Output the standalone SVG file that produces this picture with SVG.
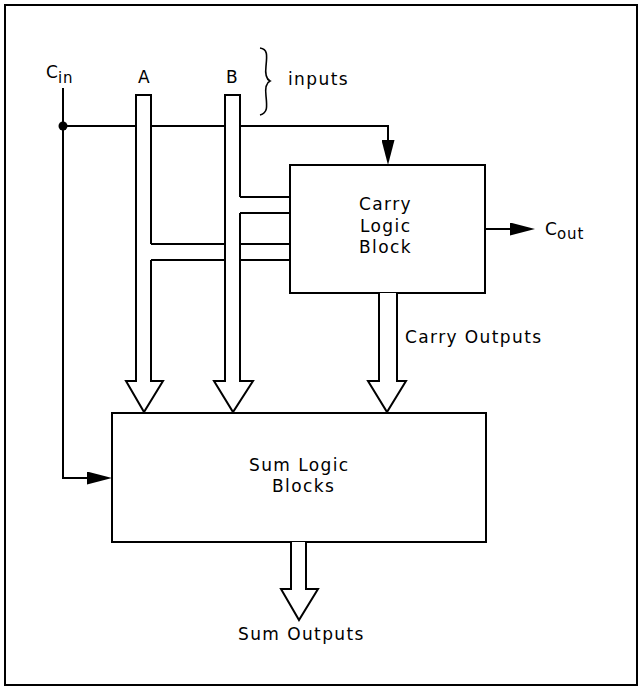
<svg xmlns="http://www.w3.org/2000/svg" width="639" height="687" viewBox="0 0 639 687">
<style>
  .ln{fill:none;stroke:#000;stroke-width:2}
  .bus{fill:#fff;stroke:#000;stroke-width:2;stroke-linejoin:miter}
  .box{fill:#fff;stroke:#000;stroke-width:2}
  text{font-family:"DejaVu Sans","Liberation Sans",sans-serif;font-size:17px;letter-spacing:1.4px;fill:#000}
  .sub{font-size:15px;letter-spacing:1px}
</style>
<defs>
  <marker id="ah" viewBox="0 0 25 13" refX="15" refY="6.5" markerWidth="25" markerHeight="13" markerUnits="userSpaceOnUse" orient="auto">
    <path d="M0,0 L25,6.5 L0,13 z" fill="#000"/>
  </marker>
</defs>
<rect x="5" y="5" width="632" height="680" fill="#fff" stroke="#000" stroke-width="2"/>

<g id="labels">
  <text x="46" y="78" style="letter-spacing:0">C<tspan class="sub" dy="5">in</tspan></text>
  <text x="138" y="83">A</text>
  <text x="226" y="83">B</text>
  <path d="M260,48 C268,49 267,56 266,66 C265,74 266,79 270,81 C266,83 265,88 266,96 C267,106 268,113 260,115" class="ln" style="stroke-width:1.6"/>
  <text x="288" y="85">inputs</text>
</g>

<g id="carry-logic-block">
  <rect class="box" x="290" y="165" width="195" height="128"/>
  <text x="359" y="210">Carry</text>
  <text x="360" y="232">Logic</text>
  <text x="359" y="253">Block</text>
</g>

<g id="sum-logic-blocks">
  <rect class="box" x="112" y="413" width="374" height="129"/>
  <text x="249" y="471">Sum Logic</text>
  <text x="272" y="492">Blocks</text>
</g>

<g id="connectors">
  <!-- Cin -->
  <path class="ln" d="M63,88 V478 H102" marker-end="url(#ah)"/>
  <circle cx="63" cy="126" r="4.5" fill="#000"/>
  <path class="ln" d="M63,126 H388 V155" marker-end="url(#ah)"/>
  <!-- A bus -->
  <path class="bus" d="M151,244 V95 H136 V381 H126 L144,412 L163,381 H151 V260"/>
  <path class="ln" d="M151,244 H225 M240,244 H290 M151,260 H225 M240,260 H290"/>
  <!-- B bus -->
  <path class="bus" d="M240,197 V95 H225 V381 H214 L233,412 L253,381 H240 V213"/>
  <path class="ln" d="M240,197 H290 M240,213 H290"/>
  <!-- Carry outputs -->
  <path class="bus" d="M379,293 V381 H368 L387,412 L406,381 H397 V293"/>
  <text x="405" y="343">Carry Outputs</text>
  <!-- Cout -->
  <path class="ln" d="M485,229 H525" marker-end="url(#ah)"/>
  <text x="545" y="235" style="letter-spacing:0">C<tspan class="sub" dy="4">out</tspan></text>
  <!-- Sum outputs -->
  <path class="bus" d="M291,542 V589 H281 L299,620 L318,589 H306 V542"/>
  <text x="238" y="640">Sum Outputs</text>
</g>
</svg>
